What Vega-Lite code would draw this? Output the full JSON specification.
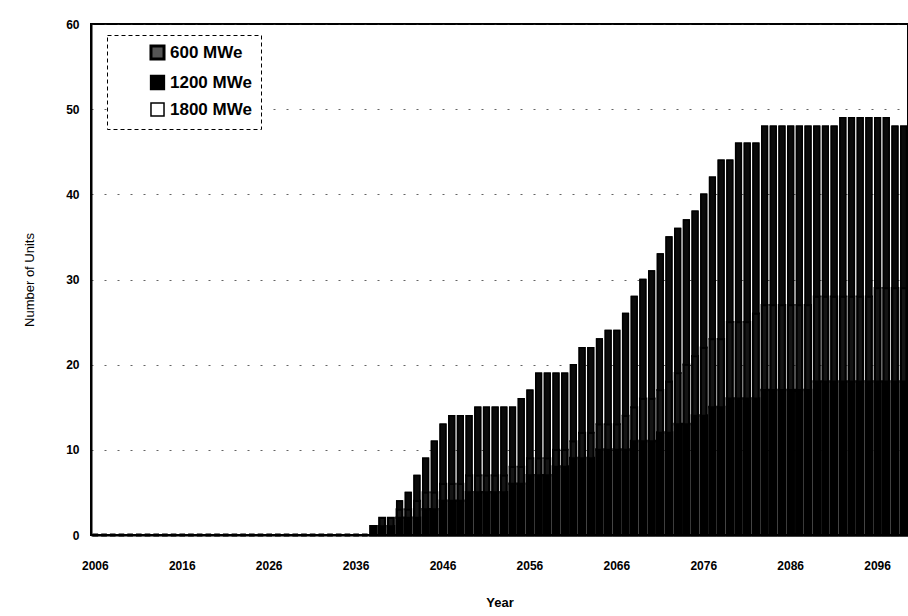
{
  "$schema": "https://vega.github.io/schema/vega-lite/v6.json",
  "width": 817,
  "height": 511,
  "autosize": {"type": "none"},
  "padding": {"left": 91, "top": 24, "right": 0, "bottom": 81},
  "background": "#ffffff",
  "config": {
    "font": "Liberation Sans",
    "view": {"stroke": "#000000", "strokeWidth": 2},
    "axis": {
      "labelFont": "Liberation Sans",
      "labelFontWeight": "bold",
      "labelFontSize": 12,
      "labelColor": "#000000",
      "titleFont": "Liberation Sans",
      "titleColor": "#000000",
      "titleFontSize": 13,
      "domainColor": "#000000",
      "domainWidth": 2,
      "ticks": false
    },
    "legend": {
      "strokeColor": "#000000",
      "strokeDash": [4, 3],
      "fillColor": "#ffffff"
    }
  },
  "data": {
    "values": [
      {"year": 2006, "series": "600 MWe", "mw": 600, "units": 0},
      {"year": 2007, "series": "600 MWe", "mw": 600, "units": 0},
      {"year": 2008, "series": "600 MWe", "mw": 600, "units": 0},
      {"year": 2009, "series": "600 MWe", "mw": 600, "units": 0},
      {"year": 2010, "series": "600 MWe", "mw": 600, "units": 0},
      {"year": 2011, "series": "600 MWe", "mw": 600, "units": 0},
      {"year": 2012, "series": "600 MWe", "mw": 600, "units": 0},
      {"year": 2013, "series": "600 MWe", "mw": 600, "units": 0},
      {"year": 2014, "series": "600 MWe", "mw": 600, "units": 0},
      {"year": 2015, "series": "600 MWe", "mw": 600, "units": 0},
      {"year": 2016, "series": "600 MWe", "mw": 600, "units": 0},
      {"year": 2017, "series": "600 MWe", "mw": 600, "units": 0},
      {"year": 2018, "series": "600 MWe", "mw": 600, "units": 0},
      {"year": 2019, "series": "600 MWe", "mw": 600, "units": 0},
      {"year": 2020, "series": "600 MWe", "mw": 600, "units": 0},
      {"year": 2021, "series": "600 MWe", "mw": 600, "units": 0},
      {"year": 2022, "series": "600 MWe", "mw": 600, "units": 0},
      {"year": 2023, "series": "600 MWe", "mw": 600, "units": 0},
      {"year": 2024, "series": "600 MWe", "mw": 600, "units": 0},
      {"year": 2025, "series": "600 MWe", "mw": 600, "units": 0},
      {"year": 2026, "series": "600 MWe", "mw": 600, "units": 0},
      {"year": 2027, "series": "600 MWe", "mw": 600, "units": 0},
      {"year": 2028, "series": "600 MWe", "mw": 600, "units": 0},
      {"year": 2029, "series": "600 MWe", "mw": 600, "units": 0},
      {"year": 2030, "series": "600 MWe", "mw": 600, "units": 0},
      {"year": 2031, "series": "600 MWe", "mw": 600, "units": 0},
      {"year": 2032, "series": "600 MWe", "mw": 600, "units": 0},
      {"year": 2033, "series": "600 MWe", "mw": 600, "units": 0},
      {"year": 2034, "series": "600 MWe", "mw": 600, "units": 0},
      {"year": 2035, "series": "600 MWe", "mw": 600, "units": 0},
      {"year": 2036, "series": "600 MWe", "mw": 600, "units": 0},
      {"year": 2037, "series": "600 MWe", "mw": 600, "units": 0},
      {"year": 2038, "series": "600 MWe", "mw": 600, "units": 1},
      {"year": 2039, "series": "600 MWe", "mw": 600, "units": 1},
      {"year": 2040, "series": "600 MWe", "mw": 600, "units": 1},
      {"year": 2041, "series": "600 MWe", "mw": 600, "units": 2},
      {"year": 2042, "series": "600 MWe", "mw": 600, "units": 2},
      {"year": 2043, "series": "600 MWe", "mw": 600, "units": 2},
      {"year": 2044, "series": "600 MWe", "mw": 600, "units": 3},
      {"year": 2045, "series": "600 MWe", "mw": 600, "units": 3},
      {"year": 2046, "series": "600 MWe", "mw": 600, "units": 4},
      {"year": 2047, "series": "600 MWe", "mw": 600, "units": 4},
      {"year": 2048, "series": "600 MWe", "mw": 600, "units": 4},
      {"year": 2049, "series": "600 MWe", "mw": 600, "units": 5},
      {"year": 2050, "series": "600 MWe", "mw": 600, "units": 5},
      {"year": 2051, "series": "600 MWe", "mw": 600, "units": 5},
      {"year": 2052, "series": "600 MWe", "mw": 600, "units": 5},
      {"year": 2053, "series": "600 MWe", "mw": 600, "units": 5},
      {"year": 2054, "series": "600 MWe", "mw": 600, "units": 6},
      {"year": 2055, "series": "600 MWe", "mw": 600, "units": 6},
      {"year": 2056, "series": "600 MWe", "mw": 600, "units": 7},
      {"year": 2057, "series": "600 MWe", "mw": 600, "units": 7},
      {"year": 2058, "series": "600 MWe", "mw": 600, "units": 7},
      {"year": 2059, "series": "600 MWe", "mw": 600, "units": 8},
      {"year": 2060, "series": "600 MWe", "mw": 600, "units": 8},
      {"year": 2061, "series": "600 MWe", "mw": 600, "units": 9},
      {"year": 2062, "series": "600 MWe", "mw": 600, "units": 9},
      {"year": 2063, "series": "600 MWe", "mw": 600, "units": 9},
      {"year": 2064, "series": "600 MWe", "mw": 600, "units": 10},
      {"year": 2065, "series": "600 MWe", "mw": 600, "units": 10},
      {"year": 2066, "series": "600 MWe", "mw": 600, "units": 10},
      {"year": 2067, "series": "600 MWe", "mw": 600, "units": 10},
      {"year": 2068, "series": "600 MWe", "mw": 600, "units": 11},
      {"year": 2069, "series": "600 MWe", "mw": 600, "units": 11},
      {"year": 2070, "series": "600 MWe", "mw": 600, "units": 11},
      {"year": 2071, "series": "600 MWe", "mw": 600, "units": 12},
      {"year": 2072, "series": "600 MWe", "mw": 600, "units": 12},
      {"year": 2073, "series": "600 MWe", "mw": 600, "units": 13},
      {"year": 2074, "series": "600 MWe", "mw": 600, "units": 13},
      {"year": 2075, "series": "600 MWe", "mw": 600, "units": 14},
      {"year": 2076, "series": "600 MWe", "mw": 600, "units": 14},
      {"year": 2077, "series": "600 MWe", "mw": 600, "units": 15},
      {"year": 2078, "series": "600 MWe", "mw": 600, "units": 15},
      {"year": 2079, "series": "600 MWe", "mw": 600, "units": 16},
      {"year": 2080, "series": "600 MWe", "mw": 600, "units": 16},
      {"year": 2081, "series": "600 MWe", "mw": 600, "units": 16},
      {"year": 2082, "series": "600 MWe", "mw": 600, "units": 16},
      {"year": 2083, "series": "600 MWe", "mw": 600, "units": 17},
      {"year": 2084, "series": "600 MWe", "mw": 600, "units": 17},
      {"year": 2085, "series": "600 MWe", "mw": 600, "units": 17},
      {"year": 2086, "series": "600 MWe", "mw": 600, "units": 17},
      {"year": 2087, "series": "600 MWe", "mw": 600, "units": 17},
      {"year": 2088, "series": "600 MWe", "mw": 600, "units": 17},
      {"year": 2089, "series": "600 MWe", "mw": 600, "units": 18},
      {"year": 2090, "series": "600 MWe", "mw": 600, "units": 18},
      {"year": 2091, "series": "600 MWe", "mw": 600, "units": 18},
      {"year": 2092, "series": "600 MWe", "mw": 600, "units": 18},
      {"year": 2093, "series": "600 MWe", "mw": 600, "units": 18},
      {"year": 2094, "series": "600 MWe", "mw": 600, "units": 18},
      {"year": 2095, "series": "600 MWe", "mw": 600, "units": 18},
      {"year": 2096, "series": "600 MWe", "mw": 600, "units": 18},
      {"year": 2097, "series": "600 MWe", "mw": 600, "units": 18},
      {"year": 2098, "series": "600 MWe", "mw": 600, "units": 18},
      {"year": 2099, "series": "600 MWe", "mw": 600, "units": 18},
      {"year": 2039, "series": "1200 MWe", "mw": 1200, "units": 1},
      {"year": 2040, "series": "1200 MWe", "mw": 1200, "units": 1},
      {"year": 2041, "series": "1200 MWe", "mw": 1200, "units": 1},
      {"year": 2042, "series": "1200 MWe", "mw": 1200, "units": 1},
      {"year": 2043, "series": "1200 MWe", "mw": 1200, "units": 2},
      {"year": 2044, "series": "1200 MWe", "mw": 1200, "units": 2},
      {"year": 2045, "series": "1200 MWe", "mw": 1200, "units": 2},
      {"year": 2046, "series": "1200 MWe", "mw": 1200, "units": 2},
      {"year": 2047, "series": "1200 MWe", "mw": 1200, "units": 2},
      {"year": 2048, "series": "1200 MWe", "mw": 1200, "units": 2},
      {"year": 2049, "series": "1200 MWe", "mw": 1200, "units": 2},
      {"year": 2050, "series": "1200 MWe", "mw": 1200, "units": 2},
      {"year": 2051, "series": "1200 MWe", "mw": 1200, "units": 2},
      {"year": 2052, "series": "1200 MWe", "mw": 1200, "units": 2},
      {"year": 2053, "series": "1200 MWe", "mw": 1200, "units": 2},
      {"year": 2054, "series": "1200 MWe", "mw": 1200, "units": 2},
      {"year": 2055, "series": "1200 MWe", "mw": 1200, "units": 2},
      {"year": 2056, "series": "1200 MWe", "mw": 1200, "units": 2},
      {"year": 2057, "series": "1200 MWe", "mw": 1200, "units": 2},
      {"year": 2058, "series": "1200 MWe", "mw": 1200, "units": 2},
      {"year": 2059, "series": "1200 MWe", "mw": 1200, "units": 2},
      {"year": 2060, "series": "1200 MWe", "mw": 1200, "units": 2},
      {"year": 2061, "series": "1200 MWe", "mw": 1200, "units": 2},
      {"year": 2062, "series": "1200 MWe", "mw": 1200, "units": 3},
      {"year": 2063, "series": "1200 MWe", "mw": 1200, "units": 3},
      {"year": 2064, "series": "1200 MWe", "mw": 1200, "units": 3},
      {"year": 2065, "series": "1200 MWe", "mw": 1200, "units": 3},
      {"year": 2066, "series": "1200 MWe", "mw": 1200, "units": 3},
      {"year": 2067, "series": "1200 MWe", "mw": 1200, "units": 4},
      {"year": 2068, "series": "1200 MWe", "mw": 1200, "units": 4},
      {"year": 2069, "series": "1200 MWe", "mw": 1200, "units": 5},
      {"year": 2070, "series": "1200 MWe", "mw": 1200, "units": 5},
      {"year": 2071, "series": "1200 MWe", "mw": 1200, "units": 5},
      {"year": 2072, "series": "1200 MWe", "mw": 1200, "units": 6},
      {"year": 2073, "series": "1200 MWe", "mw": 1200, "units": 6},
      {"year": 2074, "series": "1200 MWe", "mw": 1200, "units": 7},
      {"year": 2075, "series": "1200 MWe", "mw": 1200, "units": 7},
      {"year": 2076, "series": "1200 MWe", "mw": 1200, "units": 8},
      {"year": 2077, "series": "1200 MWe", "mw": 1200, "units": 8},
      {"year": 2078, "series": "1200 MWe", "mw": 1200, "units": 8},
      {"year": 2079, "series": "1200 MWe", "mw": 1200, "units": 9},
      {"year": 2080, "series": "1200 MWe", "mw": 1200, "units": 9},
      {"year": 2081, "series": "1200 MWe", "mw": 1200, "units": 9},
      {"year": 2082, "series": "1200 MWe", "mw": 1200, "units": 10},
      {"year": 2083, "series": "1200 MWe", "mw": 1200, "units": 10},
      {"year": 2084, "series": "1200 MWe", "mw": 1200, "units": 10},
      {"year": 2085, "series": "1200 MWe", "mw": 1200, "units": 10},
      {"year": 2086, "series": "1200 MWe", "mw": 1200, "units": 10},
      {"year": 2087, "series": "1200 MWe", "mw": 1200, "units": 10},
      {"year": 2088, "series": "1200 MWe", "mw": 1200, "units": 10},
      {"year": 2089, "series": "1200 MWe", "mw": 1200, "units": 10},
      {"year": 2090, "series": "1200 MWe", "mw": 1200, "units": 10},
      {"year": 2091, "series": "1200 MWe", "mw": 1200, "units": 10},
      {"year": 2092, "series": "1200 MWe", "mw": 1200, "units": 10},
      {"year": 2093, "series": "1200 MWe", "mw": 1200, "units": 10},
      {"year": 2094, "series": "1200 MWe", "mw": 1200, "units": 10},
      {"year": 2095, "series": "1200 MWe", "mw": 1200, "units": 10},
      {"year": 2096, "series": "1200 MWe", "mw": 1200, "units": 11},
      {"year": 2097, "series": "1200 MWe", "mw": 1200, "units": 11},
      {"year": 2098, "series": "1200 MWe", "mw": 1200, "units": 11},
      {"year": 2099, "series": "1200 MWe", "mw": 1200, "units": 11},
      {"year": 2041, "series": "1800 MWe", "mw": 1800, "units": 1},
      {"year": 2042, "series": "1800 MWe", "mw": 1800, "units": 2},
      {"year": 2043, "series": "1800 MWe", "mw": 1800, "units": 3},
      {"year": 2044, "series": "1800 MWe", "mw": 1800, "units": 4},
      {"year": 2045, "series": "1800 MWe", "mw": 1800, "units": 6},
      {"year": 2046, "series": "1800 MWe", "mw": 1800, "units": 7},
      {"year": 2047, "series": "1800 MWe", "mw": 1800, "units": 8},
      {"year": 2048, "series": "1800 MWe", "mw": 1800, "units": 8},
      {"year": 2049, "series": "1800 MWe", "mw": 1800, "units": 7},
      {"year": 2050, "series": "1800 MWe", "mw": 1800, "units": 8},
      {"year": 2051, "series": "1800 MWe", "mw": 1800, "units": 8},
      {"year": 2052, "series": "1800 MWe", "mw": 1800, "units": 8},
      {"year": 2053, "series": "1800 MWe", "mw": 1800, "units": 8},
      {"year": 2054, "series": "1800 MWe", "mw": 1800, "units": 7},
      {"year": 2055, "series": "1800 MWe", "mw": 1800, "units": 8},
      {"year": 2056, "series": "1800 MWe", "mw": 1800, "units": 8},
      {"year": 2057, "series": "1800 MWe", "mw": 1800, "units": 10},
      {"year": 2058, "series": "1800 MWe", "mw": 1800, "units": 10},
      {"year": 2059, "series": "1800 MWe", "mw": 1800, "units": 9},
      {"year": 2060, "series": "1800 MWe", "mw": 1800, "units": 9},
      {"year": 2061, "series": "1800 MWe", "mw": 1800, "units": 9},
      {"year": 2062, "series": "1800 MWe", "mw": 1800, "units": 10},
      {"year": 2063, "series": "1800 MWe", "mw": 1800, "units": 10},
      {"year": 2064, "series": "1800 MWe", "mw": 1800, "units": 10},
      {"year": 2065, "series": "1800 MWe", "mw": 1800, "units": 11},
      {"year": 2066, "series": "1800 MWe", "mw": 1800, "units": 11},
      {"year": 2067, "series": "1800 MWe", "mw": 1800, "units": 12},
      {"year": 2068, "series": "1800 MWe", "mw": 1800, "units": 13},
      {"year": 2069, "series": "1800 MWe", "mw": 1800, "units": 14},
      {"year": 2070, "series": "1800 MWe", "mw": 1800, "units": 15},
      {"year": 2071, "series": "1800 MWe", "mw": 1800, "units": 16},
      {"year": 2072, "series": "1800 MWe", "mw": 1800, "units": 17},
      {"year": 2073, "series": "1800 MWe", "mw": 1800, "units": 17},
      {"year": 2074, "series": "1800 MWe", "mw": 1800, "units": 17},
      {"year": 2075, "series": "1800 MWe", "mw": 1800, "units": 17},
      {"year": 2076, "series": "1800 MWe", "mw": 1800, "units": 18},
      {"year": 2077, "series": "1800 MWe", "mw": 1800, "units": 19},
      {"year": 2078, "series": "1800 MWe", "mw": 1800, "units": 21},
      {"year": 2079, "series": "1800 MWe", "mw": 1800, "units": 19},
      {"year": 2080, "series": "1800 MWe", "mw": 1800, "units": 21},
      {"year": 2081, "series": "1800 MWe", "mw": 1800, "units": 21},
      {"year": 2082, "series": "1800 MWe", "mw": 1800, "units": 20},
      {"year": 2083, "series": "1800 MWe", "mw": 1800, "units": 21},
      {"year": 2084, "series": "1800 MWe", "mw": 1800, "units": 21},
      {"year": 2085, "series": "1800 MWe", "mw": 1800, "units": 21},
      {"year": 2086, "series": "1800 MWe", "mw": 1800, "units": 21},
      {"year": 2087, "series": "1800 MWe", "mw": 1800, "units": 21},
      {"year": 2088, "series": "1800 MWe", "mw": 1800, "units": 21},
      {"year": 2089, "series": "1800 MWe", "mw": 1800, "units": 20},
      {"year": 2090, "series": "1800 MWe", "mw": 1800, "units": 20},
      {"year": 2091, "series": "1800 MWe", "mw": 1800, "units": 20},
      {"year": 2092, "series": "1800 MWe", "mw": 1800, "units": 21},
      {"year": 2093, "series": "1800 MWe", "mw": 1800, "units": 21},
      {"year": 2094, "series": "1800 MWe", "mw": 1800, "units": 21},
      {"year": 2095, "series": "1800 MWe", "mw": 1800, "units": 21},
      {"year": 2096, "series": "1800 MWe", "mw": 1800, "units": 20},
      {"year": 2097, "series": "1800 MWe", "mw": 1800, "units": 20},
      {"year": 2098, "series": "1800 MWe", "mw": 1800, "units": 19},
      {"year": 2099, "series": "1800 MWe", "mw": 1800, "units": 19}
    ]
  },
  "encoding": {
    "x": {
      "field": "year",
      "type": "ordinal",
      "scale": {"paddingInner": 0.35, "paddingOuter": 0.175},
      "axis": {
        "values": [2006, 2016, 2026, 2036, 2046, 2056, 2066, 2076, 2086, 2096],
        "labelAngle": 0,
        "labelPadding": 25,
        "title": "Year",
        "titleFontWeight": "bold",
        "titlePadding": 25
      }
    },
    "y": {
      "field": "units",
      "type": "quantitative",
      "stack": "zero",
      "scale": {"domain": [0, 60], "nice": false},
      "axis": {
        "values": [0, 10, 20, 30, 40, 50, 60],
        "labelPadding": 12,
        "title": "Number of Units",
        "titleFontWeight": "normal",
        "titlePadding": 29,
        "grid": true,
        "gridColor": "#222222",
        "gridDash": [2, 11],
        "gridWidth": 1,
        "gridOpacity": 0.7
      }
    },
    "order": {"field": "mw", "type": "quantitative", "sort": "ascending"}
  },
  "layer": [
    {
      "mark": {"type": "bar", "stroke": "#000000", "strokeWidth": 1.5},
      "encoding": {
        "fill": {
          "field": "series",
          "type": "nominal",
          "scale": {
            "domain": ["600 MWe", "1200 MWe", "1800 MWe"],
            "range": ["#555555", "#000000", "#ffffff"]
          },
          "legend": {
            "title": null,
            "orient": "none",
            "legendX": 16,
            "legendY": 11,
            "padding": 9,
            "symbolType": "square",
            "symbolSize": 170,
            "symbolOffset": 33,
            "labelOffset": 4,
            "rowPadding": 5,
            "labelFont": "Liberation Sans",
            "labelFontWeight": "bold",
            "labelFontSize": 17,
            "labelColor": "#000000"
          }
        }
      }
    },
    {
      "mark": {"type": "bar", "stroke": "#000000"},
      "encoding": {
        "color": {
          "field": "series",
          "type": "nominal",
          "scale": {
            "domain": ["600 MWe", "1200 MWe", "1800 MWe"],
            "range": ["#000000", "#141414", "#0a0a0a"]
          },
          "legend": null
        },
        "strokeWidth": {
          "field": "series",
          "type": "nominal",
          "scale": {
            "domain": ["600 MWe", "1200 MWe", "1800 MWe"],
            "range": [3, 1.5, 0]
          },
          "legend": null
        }
      }
    }
  ]
}
